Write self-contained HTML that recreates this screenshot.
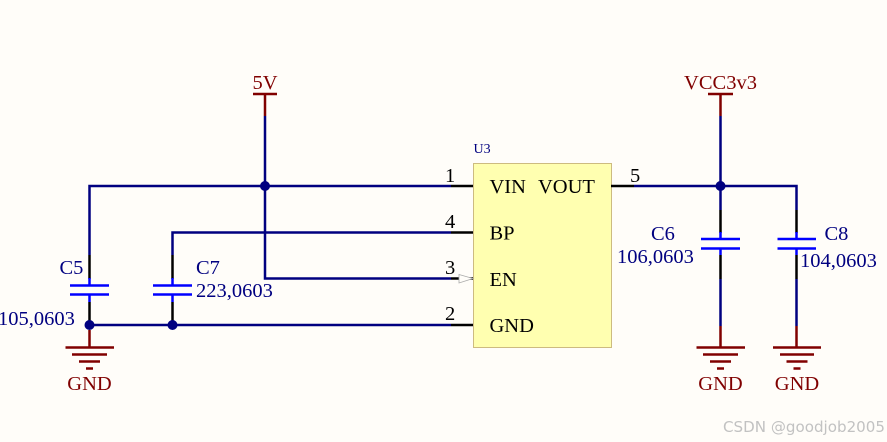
<!DOCTYPE html>
<html><head><meta charset="utf-8"><style>
html,body{margin:0;padding:0;background:#fffdf9;}
svg{display:block;}
text{font-family:"Liberation Serif",serif;font-size:20.5px;}
</style></head><body>
<svg width="887" height="442" viewBox="0 0 887 442" xmlns="http://www.w3.org/2000/svg">
<rect width="887" height="442" fill="#fffdf9"/>
<rect x="473.5" y="163.5" width="138" height="184" fill="#ffffb0" stroke="#cdbb80" stroke-width="1"/>
<g fill="none" stroke="#000080" stroke-width="2.5">
<path d="M451 186H89.5V255"/>
<path d="M451 232.500H172.500V255"/>
<path d="M451 278.500H265V116"/>
<path d="M451 325H89.500"/>
<path d="M634 186H796.500V210"/>
<path d="M720.500 116V210"/>
<path d="M720.500 279V326"/>
<path d="M796.500 279V326"/>
</g>
<g fill="none" stroke="#000" stroke-width="2.5">
<path d="M451 186H473M451 232.500H473M451 278.500H473M451 325H473M611 186H634"/>
<path d="M89.500 255V279M89.500 302V325M172.500 255V279M172.500 302V325"/>
<path d="M720.500 210V233M720.500 255V279M796.500 210V233M796.500 255V279"/>
</g>
<g fill="none" stroke="#0000ff" stroke-width="2.5">
<path d="M70 285.500H109M70 294.500H109M89.500 278V285M89.500 295V302"/>
<path d="M153 285.500H192M153 294.500H192M172.500 278V285M172.500 295V302"/>
<path d="M701 239H740M701 248.500H740M720.500 232V239M720.500 249V255"/>
<path d="M777.500 239H816M777.500 248.500H816M796.500 232V239M796.500 249V255"/>
</g>
<g fill="none" stroke="#800000" stroke-width="2.500">
<path d="M253 94H277M265 94V116"/>
<path d="M708 94H733M720.500 94V116"/>
<path d="M89.500 330V347.500M65.500 347.500H114M72 354.500H107M79 361.500H100M86 368.500H93"/>
<path d="M720.500 326V347.500M696.500 347.500H745M703 354.500H738M710 361.500H731M717 368.500H724"/>
<path d="M796.500 326V347.500M773 347.500H821M780 354.500H814M786.500 361.500H807.500M793.500 368.500H800.500"/>
</g>
<g fill="#000080">
<circle cx="89.500" cy="325" r="5"/><circle cx="172.500" cy="325" r="5"/>
<circle cx="265" cy="186" r="5"/><circle cx="720.500" cy="186" r="5"/>
</g>
<path d="M459 274.500L473 278.500L459 283Z" fill="#fffdf9" stroke="#aaa" stroke-width="0.8"/>
<g fill="#800000" text-anchor="middle">
<text x="265" y="89">5V</text>
<text x="720.500" y="89">VCC3v3</text>
<text x="89.500" y="390">GND</text>
<text x="720.500" y="390">GND</text>
<text x="797" y="390">GND</text>
</g>
<g fill="#000080">
<text x="59.500" y="274">C5</text>
<text x="196" y="274">C7</text>
<text x="-2" y="325">105,0603</text>
<text x="196" y="297">223,0603</text>
<text x="651" y="240">C6</text>
<text x="617" y="263">106,0603</text>
<text x="824.500" y="240">C8</text>
<text x="800" y="267">104,0603</text>
</g>
<text x="473.500" y="153" fill="#000080" style="font-size:14px">U3</text>
<g fill="#000">
<text x="489.500" y="193">VIN</text>
<text x="538" y="193">VOUT</text>
<text x="489.500" y="239.500">BP</text>
<text x="489.500" y="286">EN</text>
<text x="489.500" y="332">GND</text>
<text x="445" y="182">1</text>
<text x="445" y="228">4</text>
<text x="445" y="274">3</text>
<text x="445" y="320">2</text>
<text x="630" y="182">5</text>
</g>
<text x="723" y="432" fill="#c2c2c2" style="font-family:'DejaVu Sans','Liberation Sans',sans-serif;font-size:15.1px">CSDN @goodjob2005</text>
</svg>
</body></html>
